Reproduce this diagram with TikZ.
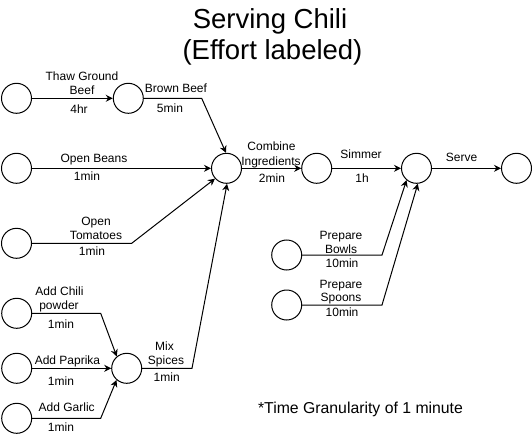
\documentclass[tikz,border=0pt]{standalone}
\usepackage{fontspec}
\setmainfont{Liberation Sans}
\usetikzlibrary{arrows.meta}
\begin{document}
\begin{tikzpicture}[x=1pt,y=-1pt,
  evt/.style={circle,draw=black,line width=1pt,fill=white,minimum size=30pt,inner sep=0pt},
  conn/.style={line width=1pt,-{Stealth[length=7pt,width=7pt]}},
  lbl/.style={anchor=base,inner sep=0pt,font=\fontsize{12}{14}\selectfont},
  ttl/.style={anchor=base,inner sep=0pt,font=\fontsize{27.5}{31}\selectfont},
  note/.style={anchor=base,inner sep=0pt,font=\fontsize{15.8}{18}\selectfont}]
\useasboundingbox (0,0) rectangle (532,441);
% title
\node[ttl] (title1) at (270,28.3) {Serving Chili};
\node[ttl] (title2) at (272.5,59.5) {(Effort labeled)};
% events
\node[evt] (a0) at (16.5,98.3) {};
\node[evt] (a1) at (128.3,98.3) {};
\node[evt] (c) at (226.5,168.3) {};
\node[evt] (b0) at (16.5,168.3) {};
\node[evt] (t0) at (16.5,243.3) {};
\node[evt] (s) at (316.7,168.3) {};
\node[evt] (d) at (416.5,168.3) {};
\node[evt] (f) at (516.5,168.3) {};
\node[evt] (pb) at (286.7,255) {};
\node[evt] (ps) at (286.7,305) {};
\node[evt] (ch) at (16.7,313.3) {};
\node[evt] (pa) at (16.7,368.3) {};
\node[evt] (ga) at (16.7,418.3) {};
\node[evt] (m) at (126.7,368.3) {};
% bends
\coordinate (kBrown) at (201.7,98.3);
\coordinate (kTom) at (131.7,243.3);
\coordinate (kMix) at (192,368.3);
\coordinate (kBowl) at (382,255);
\coordinate (kSpoon) at (382,305);
\coordinate (kChili) at (100.7,313.3);
\coordinate (kGarlic) at (100.7,418.3);
% connectors
\draw[conn] (a0) -- (a1);
\draw[conn] (a1) -- (kBrown) -- (c.92);
\draw[conn] (b0) -- (c);
\draw[conn] (t0) -- (kTom) -- (c.222);
\draw[conn] (m) -- (kMix) -- (c.272);
\draw[conn] (c) -- (s);
\draw[conn] (s) -- (d);
\draw[conn] (d) -- (f);
\draw[conn] (pb) -- (kBowl) -- (d.230);
\draw[conn] (ps) -- (kSpoon) -- (d.275);
\draw[conn] (ch) -- (kChili) -- (m.130);
\draw[conn] (pa) -- (m);
\draw[conn] (ga) -- (kGarlic) -- (m.229);
% labels
\node[lbl] (lThawA) at (82,80.7) {Thaw Ground};
\node[lbl] (lThawB) at (82,95) {Beef};
\node[lbl] (lThawC) at (79,113.3) {4hr};
\node[lbl] (lBrownA) at (176,93) {Brown Beef};
\node[lbl] (lBrownC) at (170,112.7) {5min};
\node[lbl] (lBeansA) at (94,162.7) {Open Beans};
\node[lbl] (lBeansC) at (87,180.7) {1min};
\node[lbl] (lTomA) at (96,225.7) {Open};
\node[lbl] (lTomB) at (96,239) {Tomatoes};
\node[lbl] (lTomC) at (92,255) {1min};
\node[lbl] (lCombA) at (271.5,150.7) {Combine};
\node[lbl] (lCombB) at (271,165) {Ingredients};
\node[lbl] (lCombC) at (272,182) {2min};
\node[lbl] (lSimA) at (361,158) {Simmer};
\node[lbl] (lSimC) at (362,182) {1h};
\node[lbl] (lServe) at (461.5,161.7) {Serve};
\node[lbl] (lBowlA) at (341,239) {Prepare};
\node[lbl] (lBowlB) at (341,253) {Bowls};
\node[lbl] (lBowlC) at (342,267.7) {10min};
\node[lbl] (lSpoonA) at (341,288) {Prepare};
\node[lbl] (lSpoonB) at (341,301.5) {Spoons};
\node[lbl] (lSpoonC) at (342,316.7) {10min};
\node[lbl] (lChiliA) at (59.5,295) {Add Chili};
\node[lbl] (lChiliB) at (59,309) {powder};
\node[lbl] (lChiliC) at (61,328) {1min};
\node[lbl] (lPapA) at (67.5,364) {Add Paprika};
\node[lbl] (lPapC) at (61,385) {1min};
\node[lbl] (lGarA) at (66.7,411.7) {Add Garlic};
\node[lbl] (lGarC) at (61,431.7) {1min};
\node[lbl] (lMixA) at (164.5,350.7) {Mix};
\node[lbl] (lMixB) at (166,364) {Spices};
\node[lbl] (lMixC) at (166.7,381.7) {1min};
% note
\node[note] (gran) at (360.5,413) {*Time Granularity of 1 minute};
\end{tikzpicture}
\end{document}
